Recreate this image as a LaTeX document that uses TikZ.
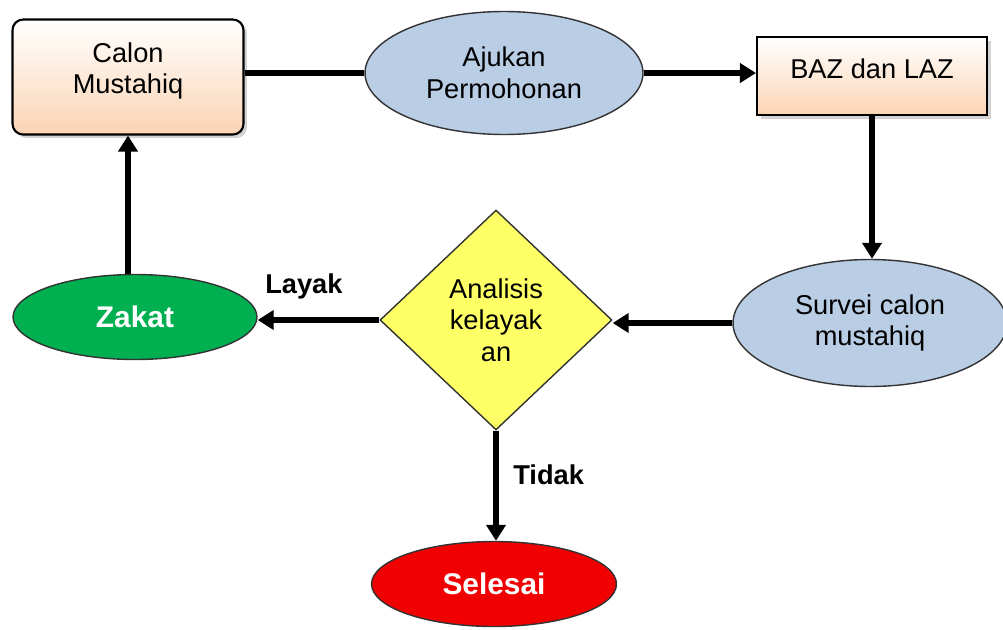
\documentclass[tikz,border=0pt]{standalone}
\usepackage{fontspec}
\setmainfont{Liberation Sans}
\usetikzlibrary{shapes.geometric,arrows.meta,shadows}
\definecolor{peach}{RGB}{251,212,180}
\definecolor{paleblue}{RGB}{185,205,229}
\definecolor{lemon}{RGB}{255,255,102}
\definecolor{leaf}{RGB}{0,176,80}
\definecolor{signal}{RGB}{240,0,0}
\tikzset{
  % Node styles for the flow chart: boxes, ovals and the decision
  peach box/.style={rectangle,draw,line width=1.2pt,top color=white,bottom color=peach,
    drop shadow={shadow xshift=2pt,shadow yshift=-2pt,opacity=.35},align=center},
  blue oval/.style={ellipse,draw=black!80,line width=.8pt,fill=paleblue,align=center,inner sep=0},
  end oval/.style={ellipse,draw=black!80,line width=.8pt,inner sep=0,text=white,
    font=\fontsize{17}{18}\selectfont\bfseries},
  decision node/.style={diamond,draw=black!80,line width=.8pt,fill=lemon,align=center,inner sep=0},
  % Two connector styles: with and without head
  flow/.style={line width=3pt,-{Triangle[length=.32cm,width=.38cm]}},
  link/.style={line width=3pt}
}

\begin{document}
\begin{tikzpicture}[x=0.02cm,y=-0.02cm,font=\fontsize{15.5}{18}\selectfont]
  \useasboundingbox (0,0) rectangle (1003,629);
  % The boxes
  \node(0)[peach box,rounded corners=6,minimum width=4.62cm,minimum height=2.3cm,text depth=.35cm] at (128,77) {Calon\\Mustahiq};
  \node(1)[blue oval,minimum width=5.56cm,minimum height=2.46cm] at (504,73) {Ajukan\\Permohonan};
  \node(2)[peach box,minimum width=4.6cm,minimum height=1.56cm,text depth=.3cm] at (872,76) {BAZ dan LAZ};
  \node(3)[blue oval,minimum width=5.48cm,minimum height=2.54cm] at (870,323) {Survei calon\\mustahiq};
  \node(4)[decision node,minimum width=4.64cm,minimum height=4.4cm] at (496,320) {Analisis\\kelayak\\an};
  \node(5)[end oval,fill=leaf,minimum width=4.88cm,minimum height=1.7cm] at (135,317) {Zakat};
  \node(6)[end oval,fill=signal,minimum width=4.9cm,minimum height=1.7cm] at (494,584) {Selesai};
  % The connectors
  \draw[link] (1.west -| 0.east) -- (1.west);
  \draw[flow] (1.east) -- (1.east -| 2.west);
  \draw[flow] (2.south) -- (2.south |- 3.north);
  \draw[flow] (3.west) -- (3.west -| 4.east);
  \draw[flow] (4.west) -- (4.west -| 5.east)
    node(7)[pos=.62,above=7pt,font=\fontsize{15.5}{18}\selectfont\bfseries]{Layak};
  \draw[flow] (4.south) -- (4.south |- 6.north)
    node(8)[pos=.4,right=5pt,font=\fontsize{15.5}{18}\selectfont\bfseries]{Tidak};
  \draw[flow] (5.north -| 0.south) -- (0.south);
\end{tikzpicture}
\end{document}
